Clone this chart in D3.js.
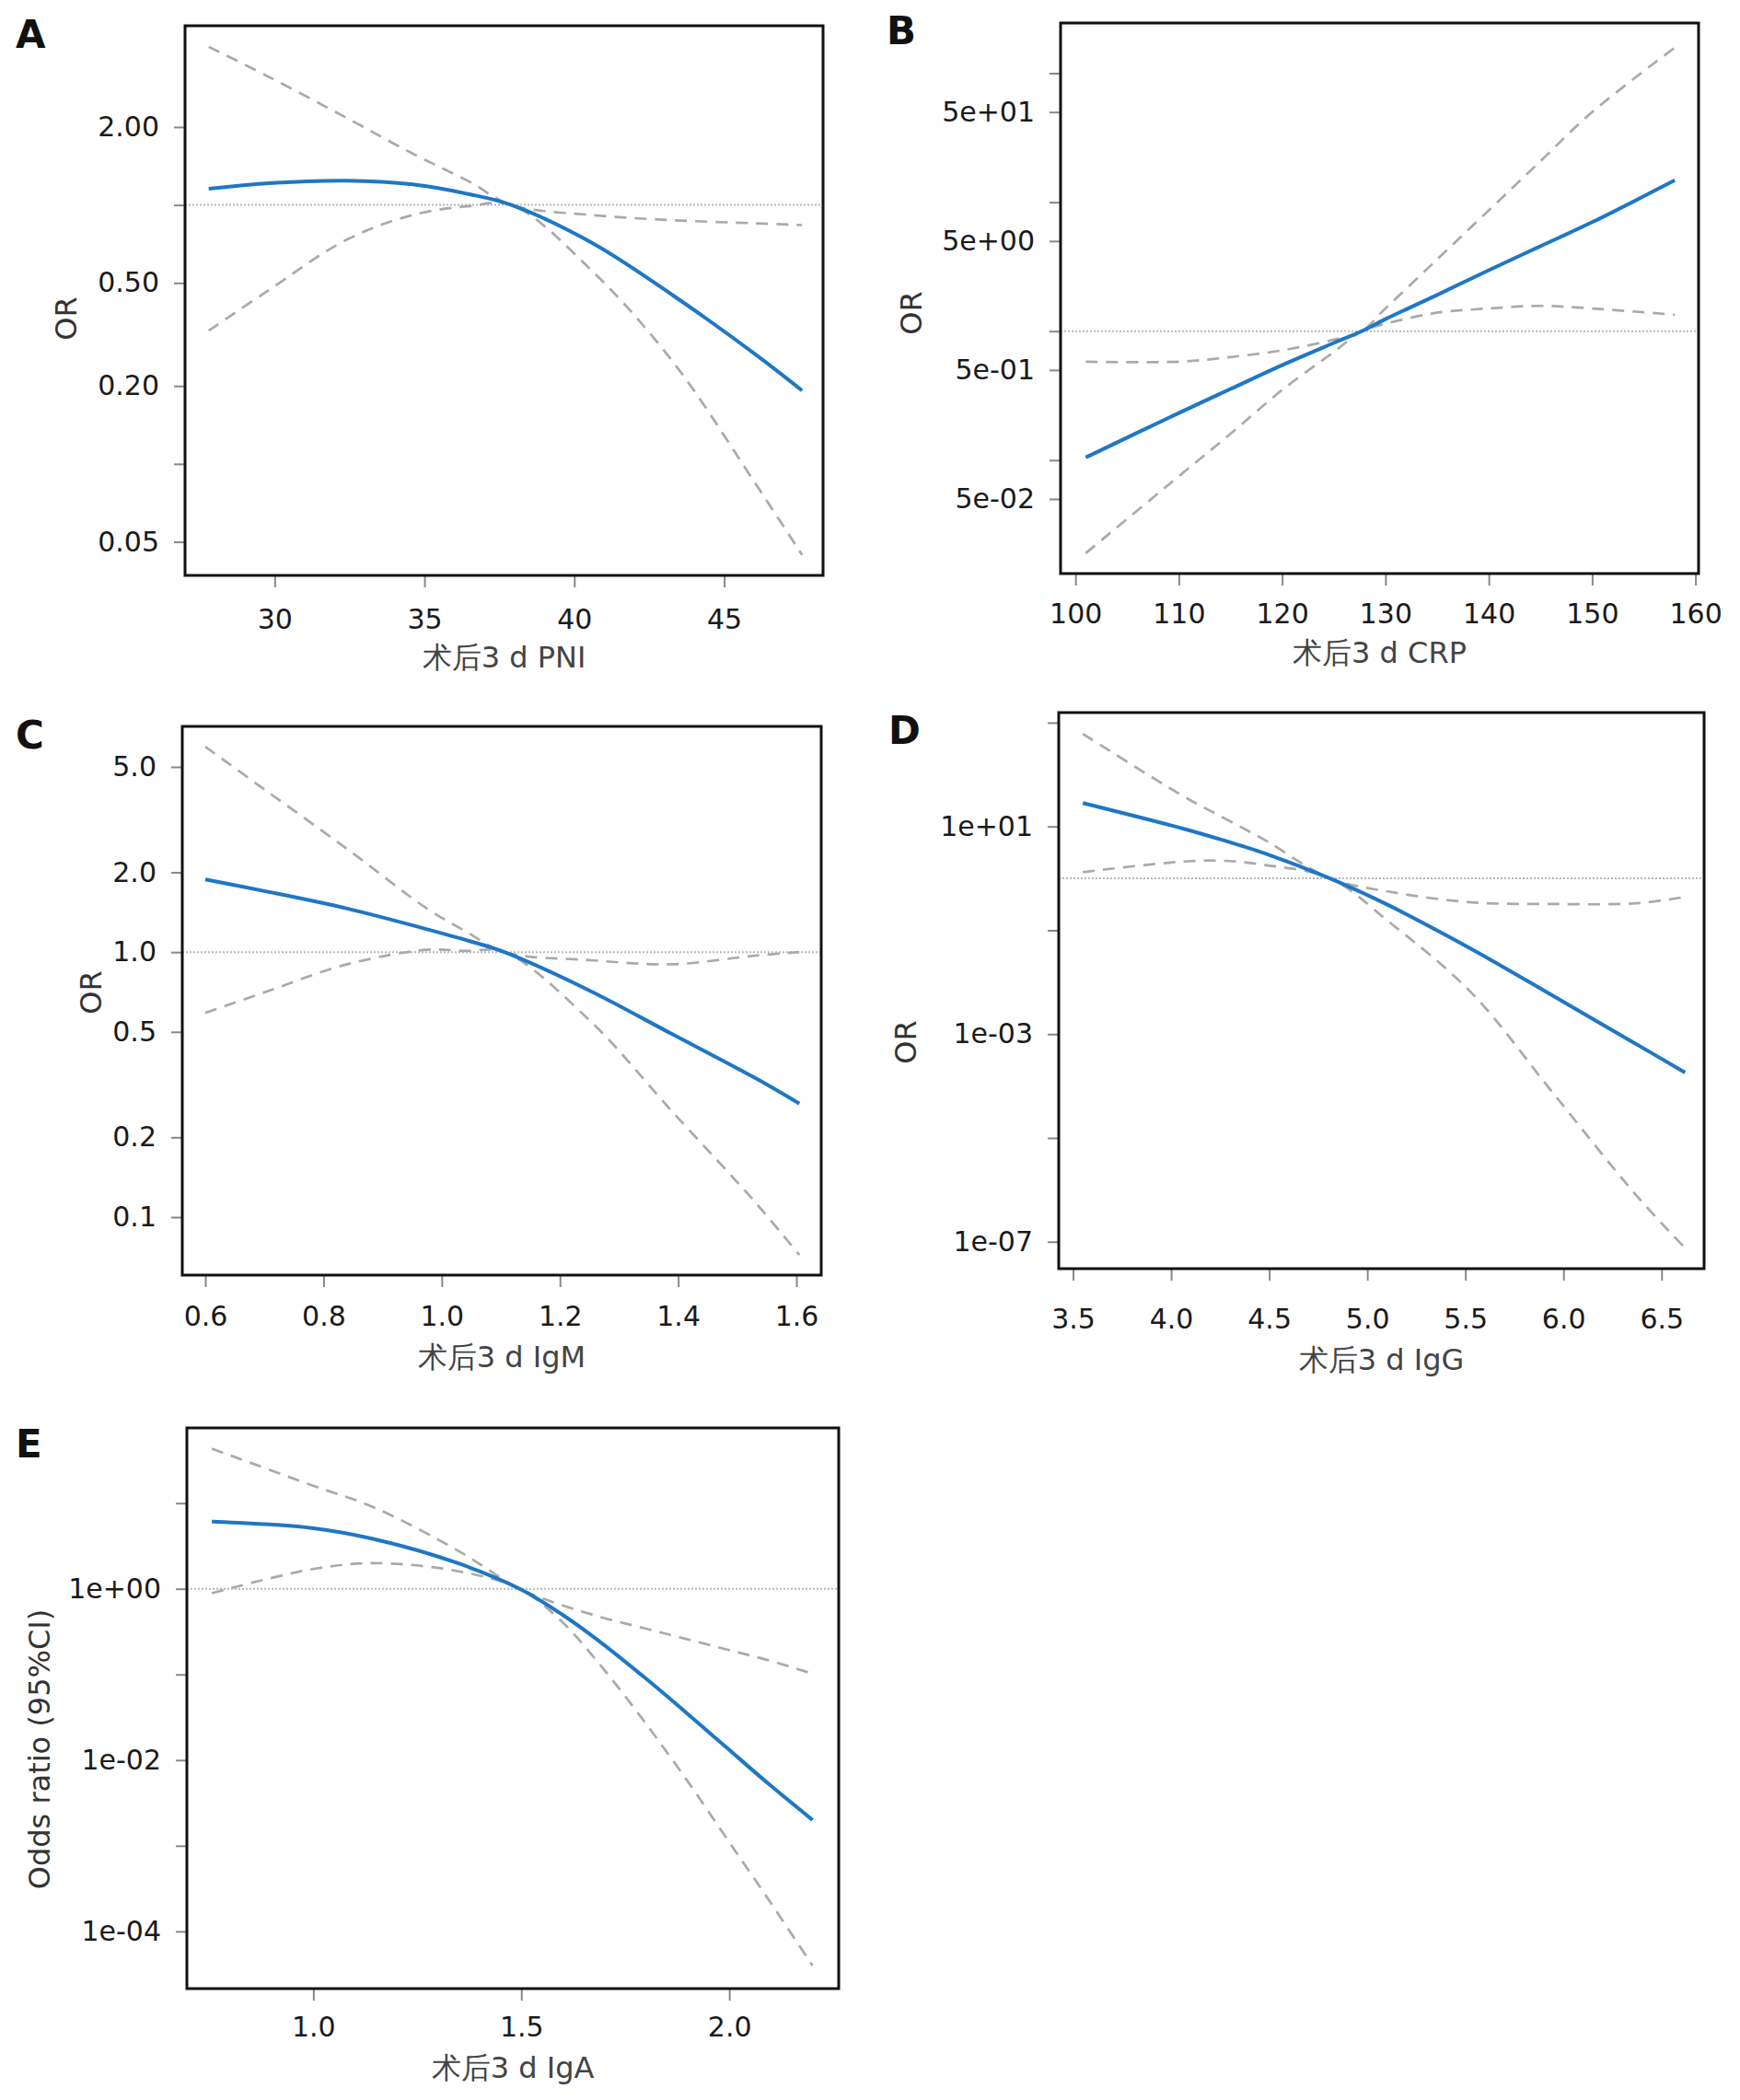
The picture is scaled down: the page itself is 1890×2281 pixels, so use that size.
<!DOCTYPE html>
<html lang="en">
<head>
    <meta charset="UTF-8">
    <script src="https://cdn.jsdelivr.net/npm/d3@7/dist/d3.min.js"></script>
    <title>RCS OR plots</title>
    <style>
        body { margin: 0; background: #fff; }
        svg text { font-family: "DejaVu Sans", Verdana, sans-serif; }
    </style>
</head>
<body>
<svg id="chart"></svg>
<script>
    // ---- data (OR values) ----
    // A: PNI
    const xA     = [27.8, 29.7, 32.4, 34.6, 36.5, 37.9, 40.6, 43.3, 46.0, 47.6];
    const fitA   = [1.155, 1.21, 1.24, 1.20, 1.10, 1.0, 0.713, 0.447, 0.267, 0.192];
    const upperA = [4.08, 3.17, 2.17, 1.58, 1.23, 1.0, 0.914, 0.873, 0.85, 0.836];
    const lowerA = [0.327, 0.46, 0.734, 0.914, 0.99, 1.0, 0.555, 0.247, 0.0855, 0.0445];
    const yTicksA = [0.05, 0.1, 0.2, 0.5, 1, 2];
    const yLabelsA = ["0.05", "", "0.20", "0.50", "", "2.00"];
    const xTicksA = [30, 35, 40, 45];

    // B: CRP
    const xB     = [101, 110, 115, 120, 125, 127.7, 130, 135, 140, 145, 150, 158];
    const fitB   = [0.105, 0.232, 0.356, 0.545, 0.81, 1.0, 1.24, 1.91, 2.97, 4.56, 7.0, 14.8];
    const upperB = [0.58, 0.58, 0.63, 0.71, 0.86, 1.0, 1.5, 3.6, 8.65, 20.8, 50, 158];
    const lowerB = [0.019, 0.075, 0.16, 0.35, 0.69, 1.0, 1.14, 1.39, 1.5, 1.57, 1.5, 1.34];
    const yTicksB = [0.05, 0.1, 0.5, 1, 5, 10, 50, 100];
    const yLabelsB = ["5e-02", "", "5e-01", "", "5e+00", "", "5e+01", ""];
    const xTicksB = [100, 110, 120, 130, 140, 150, 160];

    // C: IgM
    const xC     = [0.60, 0.70, 0.84, 0.975, 1.04, 1.106, 1.25, 1.39, 1.53, 1.605];
    const fitC   = [1.88, 1.70, 1.46, 1.22, 1.112, 1.0, 0.716, 0.49, 0.335, 0.268];
    const upperC = [5.96, 4.11, 2.45, 1.46, 1.2, 1.0, 0.933, 0.90, 0.97, 1.0];
    const lowerC = [0.59, 0.705, 0.90, 1.02, 1.01, 1.0, 0.553, 0.25, 0.114, 0.072];
    const yTicksC = [0.1, 0.2, 0.5, 1, 2, 5];
    const yLabelsC = ["0.1", "0.2", "0.5", "1.0", "2.0", "5.0"];
    const xTicksC = [0.6, 0.8, 1.0, 1.2, 1.4, 1.6];

    // D: IgG
    const xD     = [3.55, 4.06, 4.27, 4.48, 4.81, 5.11, 5.53, 5.95, 6.37, 6.62];
    const fitD   = [28.3, 9.12, 5.37, 3.02, 1.0, 0.302, 0.0437, 0.00537, 0.000646, 0.000182];
    const upperD = [608, 38.7, 14.5, 5.43, 1.0, 0.555, 0.346, 0.321, 0.331, 0.439];
    const lowerD = [1.32, 2.11, 2.18, 1.81, 1.0, 0.146, 0.0063, 0.0000708, 0.000000794, 0.0000000755];
    const yTicksD = [1e-7, 1e-5, 1e-3, 1e-1, 1e1, 1e3];
    const yLabelsD = ["1e-07", "", "1e-03", "", "1e+01", ""];
    const xTicksD = [3.5, 4.0, 4.5, 5.0, 5.5, 6.0, 6.5];

    // E: IgA
    const xE     = [0.756, 0.996, 1.146, 1.346, 1.496, 1.596, 1.695, 1.795, 1.895, 1.995, 2.095, 2.2];
    const fitE   = [6.08, 5.12, 3.8, 2.0, 1.0, 0.509, 0.229, 0.0933, 0.0363, 0.0138, 0.00525, 0.002];
    const upperE = [43.3, 16.2, 8.9, 2.82, 1.0, 0.649, 0.462, 0.347, 0.26, 0.195, 0.146, 0.102];
    const lowerE = [0.889, 1.69, 1.99, 1.61, 1.0, 0.42, 0.12, 0.0285, 0.00612, 0.00119, 0.000233, 0.00004];
    const yTicksE = [1e-4, 1e-3, 1e-2, 1e-1, 1, 10];
    const yLabelsE = ["1e-04", "", "1e-02", "", "1e+00", ""];
    const xTicksE = [1.0, 1.5, 2.0];

    // ---- layout ----
    const panels = [
        {tag: "A", x: xA, fit: fitA, upper: upperA, lower: lowerA, yTicks: yTicksA, yLabels: yLabelsA, xTicks: xTicksA, xFmt: d3.format("d"),
         xTitle: "术后3 d PNI", yTitle: "OR", box: [201, 28, 894, 625], xDom: [27.01, 48.3], yDom: [0.0371, 4.92],
         tagPos: [17, 52], yTitlePos: [83, 346], xPad: 24, xTitleDy: 100},
        {tag: "B", x: xB, fit: fitB, upper: upperB, lower: lowerB, yTicks: yTicksB, yLabels: yLabelsB, xTicks: xTicksB, xFmt: d3.format("d"),
         xTitle: "术后3 d CRP", yTitle: "OR", box: [1152, 25, 1845, 623], xDom: [98.56, 160.3], yDom: [0.0132, 245],
         tagPos: [963, 48], yTitlePos: [1001, 340], xPad: 20, xTitleDy: 97},
        {tag: "C", x: xC, fit: fitC, upper: upperC, lower: lowerC, yTicks: yTicksC, yLabels: yLabelsC, xTicks: xTicksC, xFmt: d3.format(".1f"),
         xTitle: "术后3 d IgM", yTitle: "OR", box: [198, 789, 892, 1385], xDom: [0.561, 1.642], yDom: [0.0604, 7.11],
         tagPos: [17, 813], yTitlePos: [110, 1078], xPad: 21, xTitleDy: 100},
        {tag: "D", x: xD, fit: fitD, upper: upperD, lower: lowerD, yTicks: yTicksD, yLabels: yLabelsD, xTicks: xTicksD, xFmt: d3.format(".1f"),
         xTitle: "术后3 d IgG", yTitle: "OR", box: [1150, 774, 1851, 1378], xDom: [3.427, 6.717], yDom: [3.03e-8, 1563],
         tagPos: [965, 808], yTitlePos: [995, 1132], xPad: 31, xTitleDy: 110},
        {tag: "E", x: xE, fit: fitE, upper: upperE, lower: lowerE, yTicks: yTicksE, yLabels: yLabelsE, xTicks: xTicksE, xFmt: d3.format(".1f"),
         xTitle: "术后3 d IgA", yTitle: "Odds ratio (95%CI)", box: [203, 1551, 911, 2160], xDom: [0.696, 2.263], yDom: [2.15e-5, 75.5],
         tagPos: [17, 1583], yTitlePos: [54, 1900], xPad: 18, xTitleDy: 97}
    ];

    const width = 1890;
    const height = 2281;

    const svg = d3.select("#chart")
        .attr("width", width)
        .attr("height", height)
        .attr("viewBox", [0, 0, width, height]);

    panels.forEach(drawPanel);

    function drawPanel(p) {
        const [x0, y0, x1, y1] = p.box;
        const x = d3.scaleLinear().domain(p.xDom).range([x0, x1]);
        const y = d3.scaleLog().domain(p.yDom).range([y1, y0]);
        const g = svg.append("g");

        // axes (ticks only, no axis line)
        const yAxis = g.append("g")
            .attr("transform", `translate(${x0 - 1},0)`)
            .call(d3.axisLeft(y).tickValues(p.yTicks)
                .tickFormat((d, i) => p.yLabels[i]).tickSize(11).tickPadding(16));
        const xAxis = g.append("g")
            .attr("transform", `translate(0,${y1 + 1})`)
            .call(d3.axisBottom(x).tickValues(p.xTicks)
                .tickFormat(p.xFmt).tickSize(12).tickPadding(p.xPad));
        [yAxis, xAxis].forEach(a => {
            a.select(".domain").remove();
            a.selectAll(".tick line").attr("stroke", "#888").attr("stroke-width", 2);
            a.selectAll(".tick text")
                .attr("fill", "#1a1a1a")
                .attr("font-size", 30)
                .attr("font-family", "DejaVu Sans, sans-serif");
        });

        // reference line at OR = 1
        g.append("line")
            .attr("x1", x0).attr("x2", x1)
            .attr("y1", y(1)).attr("y2", y(1))
            .attr("stroke", "#b8b8b8")
            .attr("stroke-width", 2)
            .attr("stroke-dasharray", "2,2");

        const line = d3.line()
            .x(d => x(d[0]))
            .y(d => y(d[1]))
            .curve(d3.curveCatmullRom.alpha(0.5));

        [p.upper, p.lower].forEach(s => {
            g.append("path")
                .attr("d", line(p.x.map((v, i) => [v, s[i]])))
                .attr("fill", "none")
                .attr("stroke", "#aaaaaa")
                .attr("stroke-width", 2.7)
                .attr("stroke-dasharray", "13,9");
        });

        g.append("path")
            .attr("d", line(p.x.map((v, i) => [v, p.fit[i]])))
            .attr("fill", "none")
            .attr("stroke", "#1f77c4")
            .attr("stroke-width", 4);

        // box
        g.append("rect")
            .attr("x", x0).attr("y", y0)
            .attr("width", x1 - x0).attr("height", y1 - y0)
            .attr("fill", "none")
            .attr("stroke", "#111")
            .attr("stroke-width", 3);

        // titles
        g.append("text")
            .attr("x", (x0 + x1) / 2)
            .attr("y", y1 + p.xTitleDy)
            .attr("text-anchor", "middle")
            .attr("font-size", 32)
            .attr("fill", "#444")
            .text(p.xTitle);

        g.append("text")
            .attr("transform", `translate(${p.yTitlePos[0]},${p.yTitlePos[1]}) rotate(-90)`)
            .attr("text-anchor", "middle")
            .attr("font-size", 32)
            .attr("fill", "#333")
            .text(p.yTitle);

        g.append("text")
            .attr("x", p.tagPos[0])
            .attr("y", p.tagPos[1])
            .attr("font-size", 42)
            .attr("font-weight", "bold")
            .attr("fill", "#111")
            .text(p.tag);
    }
</script>
</body>
</html>
